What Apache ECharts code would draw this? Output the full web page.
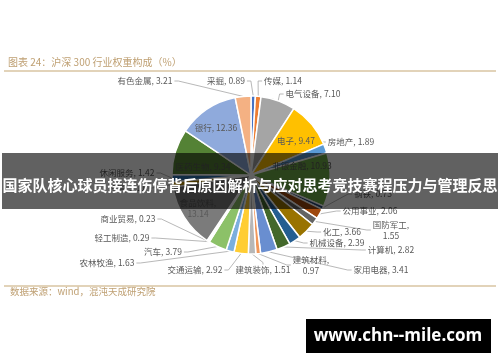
<!DOCTYPE html>
<html><head><meta charset="utf-8">
<script src="https://cdn.jsdelivr.net/npm/echarts@6/dist/echarts.min.js"></script>
<style>html,body{margin:0;padding:0;background:#fff}#c{width:500px;height:362px}</style>
</head><body><div id="c"></div>
<script>
// ---- data ----
var categories = ['采掘','传媒','电气设备','电子','房地产','非银金融','钢铁','公用事业','国防军工','化工','机械设备','计算机','家用电器','建筑材料','建筑装饰','交通运输','农林牧渔','汽车','轻工制造','商业贸易','食品饮料','通信','休闲服务','医药生物','银行','有色金属'];
var weights = [0.89,1.14,7.10,9.47,1.89,10.93,0.73,2.06,1.55,3.66,2.39,2.82,3.41,0.97,1.51,2.92,1.63,3.79,0.29,0.23,13.14,1.11,1.42,9.34,12.36,3.21];
var titleText = '图表 24：沪深 300 行业权重构成（%）';
var sourceText = '数据来源：wind，混沌天成研究院';
var bannerText = '国家队核心球员接连伤停背后原因解析与应对思考竞技赛程压力与管理反思';
var watermarkText = 'www.chn--mile.com';

// ---- styles / layout (not data) ----
var colors = ['#4472C4','#ED7D31','#A5A5A5','#FFC000','#5B9BD5','#70AD47','#264478','#9E480E','#636363','#997300','#255E91','#43682B','#698ED0','#F1975A','#B7B7B7','#FFCD33','#7CAFDD','#8CC168','#335AA1','#C55A11','#7B7B7B','#BF9000','#2F75B5','#548235','#8FAADC','#F4B183'];
var insideLabels = ['电子','非银金融','食品饮料','医药生物','银行'];
var twoLine = ['食品饮料','国防军工','建筑材料'];
// label block centre and the side where the leader line attaches
var labelAnchors = {
  '采掘':[226,81,'r'], '传媒':[283,81,'l'], '电气设备':[313,94,'l'], '电子':[296,141],
  '房地产':[351,142,'l'], '非银金融':[302,166], '钢铁':[373,194,'l'], '公用事业':[370,211,'l'],
  '国防军工':[391,230,'l'], '化工':[342,232,'l'], '机械设备':[337,243,'l'], '计算机':[391,250,'l'],
  '家用电器':[381,270,'l'], '建筑材料':[311,265,'l'], '建筑装饰':[263,270,'t'], '交通运输':[195,270,'r'],
  '农林牧渔':[107,263,'r'], '汽车':[163,252,'r'], '轻工制造':[122,238,'r'], '商业贸易':[128,219,'r'],
  '食品饮料':[198,208], '通信':[127,188,'r'], '休闲服务':[127,173,'r'], '医药生物':[203,167],
  '银行':[216,128], '有色金属':[145,81,'r']
};

var data = categories.map(function(n,i){
  var d = {name:n, value:weights[i], itemStyle:{color:colors[i]}};
  if (insideLabels.indexOf(n) >= 0) { d.label = {position:'inside'}; d.labelLine = {show:false}; }
  return d;
});

var FONT = '"Noto Sans CJK SC", sans-serif';
var chart = echarts.init(document.getElementById('c'), null, {renderer:'canvas'});
chart.setOption({
  animation:false,
  backgroundColor:'#fff',
  series:[{
    type:'pie',
    center:[251,175],
    radius:[0,79],
    startAngle:90,
    clockwise:true,
    avoidLabelOverlap:false,
    data:data,
    itemStyle:{borderColor:'#fff',borderWidth:1.5},
    label:{
      show:true,
      fontSize:8.5,
      color:'#595959',
      fontFamily:FONT,
      lineHeight:11,
      formatter:function(p){
        return twoLine.indexOf(p.name)>=0 ? p.name+',\n'+p.value.toFixed(2) : p.name+', '+p.value.toFixed(2);
      }
    },
    labelLine:{show:true,length:8,length2:6,lineStyle:{color:'#A6A6A6',width:0.8}},
    labelLayout:function(p){
      var a = labelAnchors[categories[p.dataIndex]];
      if (!a) return {};
      var w = p.labelRect.width, h = p.labelRect.height;
      var res = {x:a[0], y:a[1], align:'center', verticalAlign:'middle'};
      if (a[2] && p.labelLinePoints && p.labelLinePoints.length) {
        var p0 = p.labelLinePoints[0], end, mid;
        if (a[2]==='l') { end=[a[0]-w/2-2,a[1]]; mid=[end[0]-4,end[1]]; }
        else if (a[2]==='r') { end=[a[0]+w/2+2,a[1]]; mid=[end[0]+4,end[1]]; }
        else { end=[a[0],a[1]-h/2]; mid=[end[0],end[1]-2]; }
        res.labelLinePoints=[[p0[0],p0[1]],mid,end];
      }
      return res;
    }
  }],
  graphic:[
    {type:'text',left:8,top:57,style:{text:titleText,fill:'#BFA073',fontSize:10,fontFamily:FONT}},
    {type:'line',shape:{x1:4,y1:71,x2:496,y2:71},style:{stroke:'#D8C4A2',lineWidth:1.5}},
    {type:'line',shape:{x1:4,y1:286,x2:496,y2:286},style:{stroke:'#D8C4A2',lineWidth:1.5}},
    {type:'text',left:10,top:287,style:{text:sourceText,fill:'#BFA073',fontSize:9.5,fontFamily:FONT}},
    {type:'rect',shape:{x:2,y:153,width:496,height:56},style:{fill:'rgba(0,0,0,0.62)'},z:100},
    {type:'text',x:250,y:185,z:101,style:{text:bannerText,fill:'#fff',fontSize:15,fontWeight:'bold',align:'center',verticalAlign:'middle',fontFamily:FONT}},
    {type:'rect',shape:{x:306,y:319,width:185,height:34},style:{fill:'#000'},z:100},
    {type:'text',x:398,y:336,z:101,style:{text:watermarkText,fill:'#fff',fontSize:17,fontWeight:'bold',align:'center',verticalAlign:'middle',fontFamily:'"Open Sans", sans-serif'}}
  ]
});
</script></body></html>
